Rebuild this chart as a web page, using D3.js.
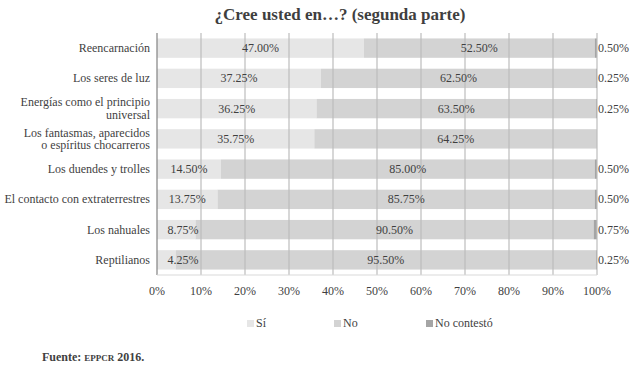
<!DOCTYPE html>
<html>
<head>
<meta charset="utf-8">
<script src="https://cdn.jsdelivr.net/npm/d3@7"></script>
<style>
  body { margin: 0; background: #fff; }
  text, tspan { font-family: "Liberation Serif", "Times New Roman", serif; }
</style>
</head>
<body>
<svg id="chart" width="640" height="371"></svg>
<script>
// Categories, top to bottom (two-line labels split on "|")
const categories = [
  'Reencarnación',
  'Los seres de luz',
  'Energías como el principio|universal',
  'Los fantasmas, aparecidos|o espíritus chocarreros',
  'Los duendes y trolles',
  'El contacto con extraterrestres',
  'Los nahuales',
  'Reptilianos'
]
const si = [47.00, 37.25, 36.25, 35.75, 14.50, 13.75, 8.75, 4.25]
const no = [52.50, 62.50, 63.50, 64.25, 85.00, 85.75, 90.50, 95.50]
const noContesto = [0.50, 0.25, 0.25, 0, 0.50, 0.50, 0.75, 0.25]
const seriesNames = ['Sí', 'No', 'No contestó']
const xTicks = [0, 10, 20, 30, 40, 50, 60, 70, 80, 90, 100]

const colors = ['#e6e6e6', '#d3d3d3', '#a5a5a5']
const textColor = '#3f3f3f'

const svg = d3.select('#chart')
const x = d3.scaleLinear().domain([0, 100]).range([157, 597])
const y = d3.scaleBand().domain(categories).range([33, 275]).paddingInner(0.36).paddingOuter(0.18)

const rows = categories.map((c, i) => {
  const vals = [si[i], no[i], noContesto[i]]
  let acc = 0
  return vals.map((v, k) => { const s = { cat: c, k, x0: acc, x1: acc + v, v }; acc += v; return s })
})

// Title
svg.append('text')
  .attr('x', 340).attr('y', 20)
  .attr('text-anchor', 'middle')
  .attr('font-size', 17).attr('font-weight', 'bold')
  .attr('fill', textColor)
  .text('¿Cree usted en…? (segunda parte)')

// Bars
svg.append('g').selectAll('g')
  .data(rows)
  .join('g')
  .selectAll('rect')
  .data(d => d)
  .join('rect')
  .attr('x', d => x(d.x0))
  .attr('y', d => y(d.cat))
  .attr('width', d => x(d.x1) - x(d.x0))
  .attr('height', y.bandwidth())
  .attr('fill', d => colors[d.k])

// Gridlines drawn over the bars
const [yTop, yBot] = y.range()
svg.append('g').selectAll('line')
  .data(xTicks.slice(1))
  .join('line')
  .attr('x1', d => x(d)).attr('x2', d => x(d))
  .attr('y1', yTop).attr('y2', yBot)
  .attr('stroke', '#bdbdbd').attr('stroke-width', 1.2)

// Category axis line
svg.append('line')
  .attr('x1', x(0)).attr('x2', x(0))
  .attr('y1', yTop).attr('y2', yBot)
  .attr('stroke', '#8c8c8c').attr('stroke-width', 1.3)
svg.append('line')
  .attr('x1', x(0)).attr('x2', x(100))
  .attr('y1', yBot).attr('y2', yBot)
  .attr('stroke', '#d9d9d9').attr('stroke-width', 1)

// Category labels
const catLabels = svg.append('g').selectAll('text')
  .data(categories)
  .join('text')
  .attr('text-anchor', 'end')
  .attr('font-size', 12)
  .attr('fill', textColor)
catLabels.each(function (d) {
  const lines = d.split('|')
  const cy = y(d) + y.bandwidth() / 2
  d3.select(this).selectAll('tspan')
    .data(lines)
    .join('tspan')
    .attr('x', 150)
    .attr('y', (l, i) => cy + 4 + (i - (lines.length - 1) / 2) * 12.5)
    .text(l => l)
})

// Value labels
const fmt = v => v.toFixed(2) + '%'
const labels = svg.append('g').attr('font-size', 12).attr('fill', textColor)
rows.forEach(r => {
  const cy = y(r[0].cat) + y.bandwidth() / 2 + 4
  // Sí: centred, kept clear of the axis
  const s = r[0]
  const half = s.v < 10 ? 12 : 15
  labels.append('text')
    .attr('x', Math.max(x((s.x0 + s.x1) / 2), x(0) + 14 + half))
    .attr('y', cy).attr('text-anchor', 'middle').text(fmt(s.v))
  const n = r[1]
  labels.append('text')
    .attr('x', x((n.x0 + n.x1) / 2))
    .attr('y', cy).attr('text-anchor', 'middle').text(fmt(n.v))
  const c = r[2]
  if (c.v > 0) {
    labels.append('text')
      .attr('x', x(100) + 1)
      .attr('y', cy).attr('text-anchor', 'start').text(fmt(c.v))
  }
})

// X axis tick labels
svg.append('g').selectAll('text')
  .data(xTicks)
  .join('text')
  .attr('x', d => x(d))
  .attr('y', 295)
  .attr('text-anchor', 'middle')
  .attr('font-size', 12)
  .attr('fill', textColor)
  .text(d => d + '%')

// Legend
const legendX = [247, 334, 426]
const legend = svg.append('g').selectAll('g')
  .data(seriesNames)
  .join('g')
  .attr('transform', (d, i) => `translate(${legendX[i]},327)`)
legend.append('rect')
  .attr('x', 0).attr('y', -7).attr('width', 7).attr('height', 7)
  .attr('fill', (d, i) => colors[i])
legend.append('text')
  .attr('x', 9).attr('y', 0)
  .attr('font-size', 12).attr('fill', textColor)
  .text(d => d)

// Source note
const src = svg.append('text')
  .attr('x', 42).attr('y', 361)
  .attr('font-size', 12).attr('font-weight', 'bold')
  .attr('fill', textColor)
src.append('tspan').text('Fuente: ')
src.append('tspan').attr('font-size', 9).text('EPPCR')
src.append('tspan').text(' 2016.')
</script>
</body>
</html>
